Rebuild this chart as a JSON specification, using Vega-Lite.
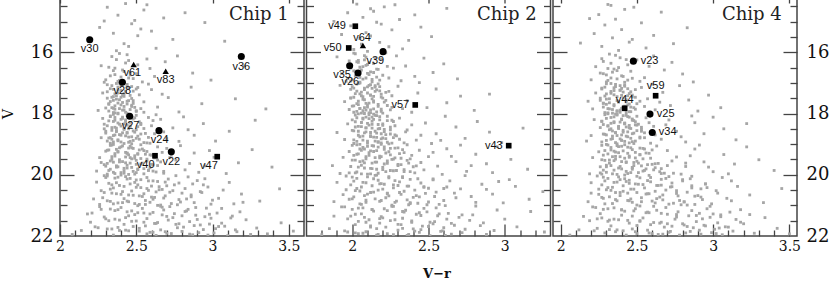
{
"$schema":"https://vega.github.io/schema/vega-lite/v6.json",
"background":"white",
"padding":{"left":0,"top":-11,"right":0,"bottom":0},
"spacing":-1.5,
"config":{
 "view":{"stroke":"#444","strokeWidth":1.5},
 "axis":{"domain":false,"grid":false,"minExtent":0,"zindex":1,"tickColor":"#444","tickWidth":1.3,"labelColor":"#111","labelFont":"DejaVu Serif","titleFont":"DejaVu Serif","titleColor":"#111","labelFlush":false,"labelOverlap":false}
},
"datasets":{
"chips":[{"p":1,"label":"Chip 1","x":3.5,"y":14.95},{"p":2,"label":"Chip 2","x":3.21,"y":14.95},{"p":4,"label":"Chip 4","x":3.45,"y":14.95}],
"sym":[
{"p":1,"n":"v30","t":"c","x":2.195,"y":15.59,"lx":2.195,"ly":15.91},
{"p":1,"n":"v61","t":"t","x":2.483,"y":16.4,"lx":2.474,"ly":16.665},
{"p":1,"n":"v83","t":"t","x":2.693,"y":16.62,"lx":2.693,"ly":16.89},
{"p":1,"n":"v36","t":"c","x":3.189,"y":16.14,"lx":3.189,"ly":16.485},
{"p":1,"n":"v28","t":"c","x":2.409,"y":16.98,"lx":2.409,"ly":17.27},
{"p":1,"n":"v27","t":"c","x":2.457,"y":18.09,"lx":2.463,"ly":18.4},
{"p":1,"n":"v24","t":"c","x":2.649,"y":18.56,"lx":2.654,"ly":18.85},
{"p":1,"n":"v22","t":"c","x":2.73,"y":19.25,"lx":2.73,"ly":19.57},
{"p":1,"n":"v40","t":"s","x":2.623,"y":19.38,"lx":2.562,"ly":19.68},
{"p":1,"n":"v47","t":"s","x":3.031,"y":19.41,"lx":2.977,"ly":19.71},
{"p":2,"n":"v49","t":"s","x":2.02,"y":15.15,"lx":1.9,"ly":15.15},
{"p":2,"n":"v64","t":"t","x":2.07,"y":15.78,"lx":2.064,"ly":15.52},
{"p":2,"n":"v50","t":"s","x":1.977,"y":15.86,"lx":1.872,"ly":15.86},
{"p":2,"n":"v39","t":"c","x":2.202,"y":15.98,"lx":2.151,"ly":16.3},
{"p":2,"n":"v35","t":"c","x":1.983,"y":16.44,"lx":1.933,"ly":16.74},
{"p":2,"n":"v26","t":"c","x":2.038,"y":16.68,"lx":1.987,"ly":16.98},
{"p":2,"n":"v57","t":"s","x":2.413,"y":17.72,"lx":2.315,"ly":17.72},
{"p":2,"n":"v43","t":"s","x":3.026,"y":19.05,"lx":2.928,"ly":19.05},
{"p":4,"n":"v23","t":"c","x":2.477,"y":16.29,"lx":2.583,"ly":16.29},
{"p":4,"n":"v59","t":"s","x":2.623,"y":17.42,"lx":2.623,"ly":17.1},
{"p":4,"n":"v44","t":"s","x":2.42,"y":17.83,"lx":2.42,"ly":17.55},
{"p":4,"n":"v25","t":"c","x":2.586,"y":18.02,"lx":2.689,"ly":18.02},
{"p":4,"n":"v34","t":"c","x":2.601,"y":18.62,"lx":2.702,"ly":18.62}
],
"c1":[
{"x":2.43,"y":14.41},{"x":2.55,"y":14.62},{"x":2.31,"y":14.53},{"x":2.68,"y":14.88},{"x":2.47,"y":15.07},{"x":2.38,"y":14.79},{"x":2.6,"y":15.31},{"x":2.26,"y":15.19},{"x":2.51,"y":15.46},{"x":2.42,"y":15.72},{"x":2.35,"y":15.38},{"x":2.74,"y":15.58},{"x":2.49,"y":14.96},{"x":2.63,"y":15.87},{"x":2.37,"y":15.95},{"x":2.95,"y":15.03},{"x":3.08,"y":15.64},{"x":2.57,"y":14.45},{"x":2.82,"y":14.71},{"x":2.45,"y":15.81},{"x":2.29,"y":14.98},{"x":2.53,"y":15.24},
{"x":2.39,"y":16.04},{"x":2.45,"y":16.27},{"x":2.34,"y":16.14},{"x":2.51,"y":16.41},{"x":2.41,"y":16.58},{"x":2.36,"y":16.73},{"x":2.48,"y":16.86},{"x":2.43,"y":16.35},{"x":2.32,"y":16.49},{"x":2.57,"y":16.22},{"x":2.38,"y":16.95},{"x":2.46,"y":16.66},{"x":2.62,"y":16.79},{"x":2.3,"y":16.9},{"x":2.69,"y":16.31},{"x":2.4,"y":16.81},{"x":2.54,"y":16.97},{"x":2.35,"y":16.6},{"x":2.77,"y":16.12},{"x":2.87,"y":16.68},{"x":2.44,"y":16.08},{"x":2.27,"y":16.44},{"x":2.5,"y":16.7},{"x":2.99,"y":16.91},{"x":2.37,"y":16.24},{"x":2.59,"y":16.53},{"x":3.21,"y":16.45},{"x":2.42,"y":16.99},
{"x":2.37,"y":17.02},{"x":2.44,"y":17.11},{"x":2.33,"y":17.19},{"x":2.48,"y":17.27},{"x":2.4,"y":17.08},{"x":2.36,"y":17.36},{"x":2.42,"y":17.44},{"x":2.51,"y":17.15},{"x":2.31,"y":17.5},{"x":2.45,"y":17.58},{"x":2.38,"y":17.66},{"x":2.34,"y":17.81},{"x":2.47,"y":17.73},{"x":2.41,"y":17.89},{"x":2.55,"y":17.62},{"x":2.35,"y":17.97},{"x":2.43,"y":17.3},{"x":2.39,"y":17.55},{"x":2.5,"y":17.93},{"x":2.32,"y":17.7},{"x":2.46,"y":17.41},{"x":2.36,"y":17.86},{"x":2.6,"y":17.22},{"x":2.64,"y":17.79},{"x":2.28,"y":17.33},{"x":2.71,"y":17.48},{"x":2.78,"y":17.95},{"x":2.86,"y":17.14},{"x":2.93,"y":17.68},{"x":3.15,"y":17.52},{"x":2.53,"y":17.84},{"x":2.44,"y":17.99},{"x":2.4,"y":17.24},{"x":2.48,"y":17.67},{"x":2.35,"y":17.45},{"x":2.58,"y":17.04},{"x":2.25,"y":17.9},{"x":2.67,"y":17.37},{"x":2.42,"y":17.77},{"x":3.35,"y":17.85},
{"x":2.35,"y":18.03},{"x":2.41,"y":18.16},{"x":2.47,"y":18.09},{"x":2.32,"y":18.24},{"x":2.38,"y":18.31},{"x":2.44,"y":18.38},{"x":2.52,"y":18.27},{"x":2.36,"y":18.45},{"x":2.42,"y":18.52},{"x":2.49,"y":18.61},{"x":2.3,"y":18.58},{"x":2.39,"y":18.69},{"x":2.45,"y":18.77},{"x":2.34,"y":18.84},{"x":2.55,"y":18.49},{"x":2.4,"y":18.93},{"x":2.48,"y":18.88},{"x":2.33,"y":18.97},{"x":2.58,"y":18.13},{"x":2.43,"y":18.21},{"x":2.37,"y":18.56},{"x":2.51,"y":18.74},{"x":2.46,"y":18.42},{"x":2.62,"y":18.66},{"x":2.29,"y":18.35},{"x":2.66,"y":18.19},{"x":2.7,"y":18.82},{"x":2.74,"y":18.47},{"x":2.81,"y":18.11},{"x":2.88,"y":18.71},{"x":2.94,"y":18.33},{"x":3.02,"y":18.9},{"x":3.11,"y":18.58},{"x":2.57,"y":18.96},{"x":2.36,"y":18.13},{"x":2.44,"y":18.64},{"x":2.53,"y":18.36},{"x":2.4,"y":18.41},{"x":2.27,"y":18.79},{"x":2.63,"y":18.04},{"x":2.78,"y":18.91},{"x":2.84,"y":18.53},{"x":3.28,"y":18.22},{"x":2.5,"y":18.06},{"x":2.47,"y":18.99},{"x":2.35,"y":18.72},{"x":2.68,"y":18.6},{"x":2.31,"y":18.9},
{"x":2.33,"y":19.04},{"x":2.39,"y":19.12},{"x":2.46,"y":19.07},{"x":2.52,"y":19.19},{"x":2.3,"y":19.23},{"x":2.36,"y":19.31},{"x":2.43,"y":19.27},{"x":2.49,"y":19.38},{"x":2.56,"y":19.33},{"x":2.62,"y":19.45},{"x":2.34,"y":19.5},{"x":2.41,"y":19.57},{"x":2.47,"y":19.48},{"x":2.54,"y":19.62},{"x":2.29,"y":19.67},{"x":2.38,"y":19.74},{"x":2.44,"y":19.69},{"x":2.51,"y":19.81},{"x":2.59,"y":19.77},{"x":2.66,"y":19.58},{"x":2.32,"y":19.86},{"x":2.4,"y":19.93},{"x":2.48,"y":19.89},{"x":2.55,"y":19.97},{"x":2.63,"y":19.91},{"x":2.7,"y":19.14},{"x":2.76,"y":19.52},{"x":2.82,"y":19.84},{"x":2.88,"y":19.29},{"x":2.95,"y":19.71},{"x":3.01,"y":19.43},{"x":3.09,"y":19.96},{"x":3.17,"y":19.61},{"x":2.26,"y":19.44},{"x":2.24,"y":19.88},{"x":2.37,"y":19.17},{"x":2.45,"y":19.35},{"x":2.53,"y":19.02},{"x":2.6,"y":19.66},{"x":2.68,"y":19.95},{"x":2.35,"y":19.59},{"x":2.42,"y":19.79},{"x":2.5,"y":19.53},{"x":2.57,"y":19.24},{"x":2.73,"y":19.36},{"x":2.79,"y":19.05},{"x":2.91,"y":19.92},{"x":3.26,"y":19.18},{"x":3.39,"y":19.75},{"x":2.31,"y":19.98},{"x":2.64,"y":19.09},{"x":2.85,"y":19.63},{"x":2.98,"y":19.21},{"x":2.45,"y":19.99},{"x":2.58,"y":19.85},
{"x":2.29,"y":20.03},{"x":2.36,"y":20.11},{"x":2.43,"y":20.06},{"x":2.5,"y":20.17},{"x":2.57,"y":20.09},{"x":2.64,"y":20.22},{"x":2.71,"y":20.14},{"x":2.32,"y":20.28},{"x":2.39,"y":20.35},{"x":2.46,"y":20.3},{"x":2.53,"y":20.42},{"x":2.6,"y":20.37},{"x":2.67,"y":20.48},{"x":2.75,"y":20.33},{"x":2.82,"y":20.45},{"x":2.27,"y":20.52},{"x":2.34,"y":20.6},{"x":2.41,"y":20.55},{"x":2.48,"y":20.67},{"x":2.55,"y":20.62},{"x":2.62,"y":20.74},{"x":2.69,"y":20.69},{"x":2.78,"y":20.81},{"x":2.86,"y":20.72},{"x":2.93,"y":20.58},{"x":2.31,"y":20.85},{"x":2.38,"y":20.92},{"x":2.45,"y":20.88},{"x":2.52,"y":20.97},{"x":2.59,"y":20.9},{"x":2.66,"y":20.99},{"x":2.73,"y":20.94},{"x":2.9,"y":20.19},{"x":2.97,"y":20.4},{"x":3.04,"y":20.77},{"x":3.11,"y":20.25},{"x":3.19,"y":20.63},{"x":3.31,"y":20.86},{"x":3.44,"y":20.46},{"x":2.24,"y":20.24},{"x":2.22,"y":20.79},{"x":2.84,"y":20.07},{"x":2.99,"y":20.96},{"x":3.07,"y":20.5},{"x":2.8,"y":20.6},{"x":2.35,"y":20.43},{"x":2.42,"y":20.78},{"x":2.49,"y":20.25},{"x":2.56,"y":20.84},{"x":2.63,"y":20.56},{"x":2.7,"y":20.36},{"x":2.77,"y":20.98},{"x":2.88,"y":20.91},{"x":2.95,"y":20.13},{"x":3.14,"y":20.95},{"x":2.4,"y":20.01},{"x":2.58,"y":20.51},{"x":2.26,"y":20.97},
{"x":2.26,"y":21.04},{"x":2.33,"y":21.12},{"x":2.4,"y":21.07},{"x":2.47,"y":21.18},{"x":2.54,"y":21.1},{"x":2.61,"y":21.23},{"x":2.68,"y":21.15},{"x":2.75,"y":21.27},{"x":2.82,"y":21.2},{"x":2.89,"y":21.32},{"x":2.96,"y":21.09},{"x":3.03,"y":21.25},{"x":2.29,"y":21.38},{"x":2.36,"y":21.45},{"x":2.43,"y":21.4},{"x":2.5,"y":21.51},{"x":2.57,"y":21.43},{"x":2.64,"y":21.56},{"x":2.71,"y":21.48},{"x":2.78,"y":21.6},{"x":2.85,"y":21.53},{"x":2.92,"y":21.64},{"x":2.99,"y":21.42},{"x":3.06,"y":21.58},{"x":3.13,"y":21.35},{"x":2.23,"y":21.7},{"x":2.31,"y":21.77},{"x":2.38,"y":21.72},{"x":2.45,"y":21.83},{"x":2.52,"y":21.75},{"x":2.59,"y":21.88},{"x":2.66,"y":21.8},{"x":2.73,"y":21.92},{"x":2.8,"y":21.85},{"x":2.87,"y":21.96},{"x":2.94,"y":21.79},{"x":3.01,"y":21.9},{"x":3.08,"y":21.68},{"x":3.16,"y":21.86},{"x":3.22,"y":21.47},{"x":3.29,"y":21.74},{"x":3.36,"y":21.93},{"x":3.45,"y":21.57},{"x":3.53,"y":21.84},{"x":2.18,"y":21.28},{"x":2.14,"y":21.82},{"x":2.08,"y":21.95},{"x":2.35,"y":21.97},{"x":2.42,"y":21.62},{"x":2.49,"y":21.3},{"x":2.56,"y":21.67},{"x":2.63,"y":21.98},{"x":2.7,"y":21.36},{"x":2.77,"y":21.73},{"x":2.84,"y":21.13},{"x":2.91,"y":21.89},{"x":2.98,"y":21.61},{"x":3.1,"y":21.99},{"x":3.18,"y":21.21},{"x":3.25,"y":21.95},{"x":2.2,"y":21.55},{"x":2.66,"y":21.03},
{"x":2.39,"y":17.01},{"x":2.34,"y":17.09},{"x":2.45,"y":17.17},{"x":2.38,"y":17.23},{"x":2.31,"y":17.29},{"x":2.42,"y":17.35},{"x":2.47,"y":17.51},{"x":2.37,"y":17.42},{"x":2.33,"y":17.61},{"x":2.41,"y":17.64},{"x":2.44,"y":17.69},{"x":2.36,"y":17.75},{"x":2.49,"y":17.8},{"x":2.39,"y":17.84},{"x":2.32,"y":17.92},{"x":2.43,"y":17.96},{"x":2.4,"y":17.47},{"x":2.35,"y":17.57},{"x":2.46,"y":17.87},{"x":2.38,"y":17.14},{"x":2.52,"y":17.39},{"x":2.3,"y":17.82},{"x":2.44,"y":17.05},{"x":2.48,"y":17.58},{"x":2.36,"y":17.98},
{"x":2.38,"y":18.01},{"x":2.44,"y":18.07},{"x":2.33,"y":18.1},{"x":2.49,"y":18.14},{"x":2.4,"y":18.19},{"x":2.35,"y":18.26},{"x":2.46,"y":18.29},{"x":2.42,"y":18.34},{"x":2.31,"y":18.4},{"x":2.51,"y":18.43},{"x":2.37,"y":18.48},{"x":2.45,"y":18.5},{"x":2.34,"y":18.55},{"x":2.48,"y":18.57},{"x":2.41,"y":18.63},{"x":2.53,"y":18.67},{"x":2.36,"y":18.7},{"x":2.43,"y":18.73},{"x":2.32,"y":18.8},{"x":2.5,"y":18.81},{"x":2.38,"y":18.86},{"x":2.46,"y":18.91},{"x":2.55,"y":18.95},{"x":2.42,"y":18.98},{"x":2.29,"y":18.5},{"x":2.6,"y":18.4},{"x":2.58,"y":18.78},{"x":2.35,"y":18.93},
{"x":2.35,"y":19.01},{"x":2.41,"y":19.06},{"x":2.48,"y":19.14},{"x":2.32,"y":19.19},{"x":2.55,"y":19.21},{"x":2.38,"y":19.26},{"x":2.44,"y":19.3},{"x":2.51,"y":19.33},{"x":2.6,"y":19.36},{"x":2.34,"y":19.41},{"x":2.46,"y":19.44},{"x":2.39,"y":19.51},{"x":2.57,"y":19.55},{"x":2.43,"y":19.61},{"x":2.31,"y":19.63},{"x":2.5,"y":19.66},{"x":2.64,"y":19.7},{"x":2.37,"y":19.71},{"x":2.47,"y":19.76},{"x":2.55,"y":19.8},{"x":2.33,"y":19.82},{"x":2.42,"y":19.87},{"x":2.61,"y":19.88},{"x":2.5,"y":19.93},{"x":2.36,"y":19.96},{"x":2.45,"y":19.13},{"x":2.53,"y":19.47},{"x":2.67,"y":19.27},
{"x":2.3,"y":20.09},{"x":2.44,"y":20.14},{"x":2.58,"y":20.2},{"x":2.37,"y":20.26},{"x":2.51,"y":20.33},{"x":2.65,"y":20.39},{"x":2.33,"y":20.47},{"x":2.47,"y":20.53},{"x":2.72,"y":20.57},{"x":2.4,"y":20.64},{"x":2.54,"y":20.71},{"x":2.86,"y":20.66},{"x":2.28,"y":20.75},{"x":2.61,"y":20.8},{"x":2.44,"y":20.86},{"x":2.79,"y":20.89},{"x":2.35,"y":20.95},{"x":2.94,"y":20.33},{"x":2.51,"y":21.01},{"x":2.67,"y":21.06},{"x":2.38,"y":21.14},{"x":2.83,"y":21.18},{"x":2.55,"y":21.25},{"x":2.98,"y":21.29},{"x":2.45,"y":21.34},{"x":2.74,"y":21.4},{"x":2.32,"y":21.5},{"x":2.9,"y":21.46},{"x":2.62,"y":21.59},{"x":2.48,"y":21.69},{"x":2.81,"y":21.71},{"x":3.02,"y":21.76},{"x":2.39,"y":21.82},{"x":2.69,"y":21.86},{"x":2.57,"y":21.93},
{"x":2.36,"y":16.52},{"x":2.42,"y":16.63},{"x":2.33,"y":16.77},{"x":2.45,"y":16.84},{"x":2.39,"y":16.92},{"x":2.31,"y":17.06},{"x":2.47,"y":17.12},{"x":2.35,"y":17.21},{"x":2.43,"y":17.27},{"x":2.38,"y":17.33},{"x":2.5,"y":17.2},{"x":2.29,"y":16.98},{"x":2.41,"y":17.41},{"x":2.34,"y":17.47},{"x":2.46,"y":16.74},
{"x":2.37,"y":17.53},{"x":2.44,"y":17.6},{"x":2.32,"y":17.68},{"x":2.4,"y":17.72},{"x":2.47,"y":17.77},{"x":2.35,"y":17.83},{"x":2.42,"y":17.88},{"x":2.5,"y":17.91},{"x":2.38,"y":17.99},{"x":2.45,"y":18.04},{"x":2.33,"y":18.08},{"x":2.41,"y":18.12},{"x":2.48,"y":18.18},{"x":2.36,"y":18.22},{"x":2.43,"y":18.27},{"x":2.53,"y":18.32},{"x":2.39,"y":18.35},{"x":2.46,"y":18.41},{"x":2.34,"y":18.46},{"x":2.42,"y":18.49},{"x":2.5,"y":18.53},{"x":2.37,"y":18.59},{"x":2.44,"y":18.62},{"x":2.56,"y":18.65},{"x":2.4,"y":18.71},{"x":2.47,"y":18.76},{"x":2.33,"y":18.79},{"x":2.52,"y":18.84},{"x":2.38,"y":18.89},{"x":2.45,"y":18.94},{"x":2.59,"y":18.97},{"x":2.3,"y":18.64},{"x":2.61,"y":18.23},{"x":2.55,"y":17.96},{"x":2.28,"y":18.16},
{"x":2.34,"y":19.03},{"x":2.4,"y":19.09},{"x":2.47,"y":19.12},{"x":2.54,"y":19.16},{"x":2.31,"y":19.2},{"x":2.38,"y":19.24},{"x":2.44,"y":19.29},{"x":2.51,"y":19.31},{"x":2.59,"y":19.35},{"x":2.36,"y":19.39},{"x":2.43,"y":19.42},{"x":2.49,"y":19.46},{"x":2.57,"y":19.49},{"x":2.64,"y":19.52},{"x":2.33,"y":19.55},{"x":2.39,"y":19.58},{"x":2.46,"y":19.62},{"x":2.53,"y":19.65},{"x":2.61,"y":19.68},{"x":2.3,"y":19.72},{"x":2.37,"y":19.75},{"x":2.44,"y":19.78},{"x":2.51,"y":19.83},{"x":2.58,"y":19.86},{"x":2.68,"y":19.89},{"x":2.35,"y":19.92},{"x":2.42,"y":19.95},{"x":2.49,"y":19.98},{"x":2.72,"y":19.44},{"x":2.27,"y":19.6},
{"x":2.31,"y":20.04},{"x":2.38,"y":20.08},{"x":2.46,"y":20.12},{"x":2.53,"y":20.16},{"x":2.61,"y":20.2},{"x":2.69,"y":20.24},{"x":2.78,"y":20.27},{"x":2.87,"y":20.3},{"x":2.34,"y":20.33},{"x":2.42,"y":20.38},{"x":2.5,"y":20.41},{"x":2.57,"y":20.45},{"x":2.65,"y":20.49},{"x":2.74,"y":20.52},{"x":2.92,"y":20.55},{"x":2.29,"y":20.58},{"x":2.37,"y":20.62},{"x":2.45,"y":20.66},{"x":2.52,"y":20.69},{"x":2.6,"y":20.73},{"x":2.68,"y":20.76},{"x":2.83,"y":20.79},{"x":3.0,"y":20.83},{"x":2.33,"y":20.87},{"x":2.41,"y":20.91},{"x":2.49,"y":20.94},{"x":2.56,"y":20.97},{"x":2.64,"y":21.0},{"x":2.72,"y":21.04},{"x":2.89,"y":21.07},{"x":3.06,"y":21.1},{"x":2.27,"y":21.13},{"x":2.36,"y":21.17},{"x":2.44,"y":21.21},{"x":2.51,"y":21.24},{"x":2.59,"y":21.28},{"x":2.67,"y":21.31},{"x":2.8,"y":21.34},{"x":2.95,"y":21.37},{"x":3.12,"y":21.41},{"x":2.3,"y":21.44},{"x":2.39,"y":21.48},{"x":2.47,"y":21.52},{"x":2.55,"y":21.55},{"x":2.63,"y":21.59},{"x":2.76,"y":21.62},{"x":2.88,"y":21.66},{"x":3.04,"y":21.69},{"x":2.25,"y":21.73},{"x":2.34,"y":21.77},{"x":2.43,"y":21.81},{"x":2.52,"y":21.84},{"x":2.61,"y":21.88},{"x":2.7,"y":21.91},{"x":2.85,"y":21.94},{"x":2.97,"y":21.97},{"x":3.15,"y":21.8},{"x":2.21,"y":21.25},{"x":3.2,"y":20.9},{"x":2.76,"y":20.03}
],
"c2":[
{"x":2.03,"y":14.43},{"x":2.12,"y":14.58},{"x":1.97,"y":14.71},{"x":2.21,"y":14.52},{"x":2.07,"y":14.86},{"x":2.16,"y":15.02},{"x":1.99,"y":15.14},{"x":2.26,"y":15.27},{"x":2.09,"y":15.36},{"x":2.31,"y":14.93},{"x":2.05,"y":15.55},{"x":2.18,"y":15.68},{"x":2.12,"y":15.47},{"x":2.24,"y":15.82},{"x":2.01,"y":15.91},{"x":2.37,"y":15.61},{"x":2.45,"y":15.18},{"x":2.14,"y":14.66},{"x":1.93,"y":15.42},{"x":2.28,"y":14.45},{"x":2.41,"y":14.78},{"x":2.52,"y":15.49},{"x":2.1,"y":15.97},{"x":2.19,"y":15.08},{"x":2.62,"y":14.57},{"x":2.33,"y":15.89},{"x":1.88,"y":14.99},{"x":2.06,"y":15.74},
{"x":2.02,"y":16.05},{"x":2.09,"y":16.16},{"x":1.98,"y":16.28},{"x":2.14,"y":16.37},{"x":2.05,"y":16.49},{"x":2.19,"y":16.22},{"x":2.01,"y":16.61},{"x":2.11,"y":16.73},{"x":2.07,"y":16.88},{"x":1.96,"y":16.95},{"x":2.17,"y":16.56},{"x":2.24,"y":16.84},{"x":2.04,"y":16.33},{"x":2.13,"y":16.97},{"x":2.29,"y":16.12},{"x":2.35,"y":16.45},{"x":2.41,"y":16.79},{"x":2.47,"y":16.19},{"x":2.53,"y":16.66},{"x":2.09,"y":16.43},{"x":1.93,"y":16.7},{"x":2.22,"y":16.02},{"x":2.0,"y":16.9},{"x":2.16,"y":16.81},{"x":2.32,"y":16.93},{"x":2.6,"y":16.38},{"x":2.69,"y":16.87},{"x":2.08,"y":16.25},{"x":2.12,"y":16.64},{"x":2.27,"y":16.52},{"x":1.9,"y":16.15},{"x":2.44,"y":16.99},
{"x":2.03,"y":17.04},{"x":2.1,"y":17.13},{"x":1.99,"y":17.21},{"x":2.15,"y":17.09},{"x":2.06,"y":17.3},{"x":2.12,"y":17.39},{"x":2.01,"y":17.47},{"x":2.18,"y":17.26},{"x":2.08,"y":17.55},{"x":2.14,"y":17.63},{"x":2.04,"y":17.71},{"x":2.2,"y":17.5},{"x":2.1,"y":17.79},{"x":1.98,"y":17.87},{"x":2.16,"y":17.95},{"x":2.07,"y":17.91},{"x":2.23,"y":17.74},{"x":2.02,"y":17.35},{"x":2.13,"y":17.18},{"x":2.09,"y":17.67},{"x":2.26,"y":17.42},{"x":2.05,"y":17.83},{"x":2.19,"y":17.86},{"x":2.11,"y":17.98},{"x":2.3,"y":17.11},{"x":2.36,"y":17.58},{"x":2.43,"y":17.33},{"x":2.49,"y":17.81},{"x":2.55,"y":17.2},{"x":2.62,"y":17.65},{"x":2.71,"y":17.43},{"x":2.8,"y":17.9},{"x":1.95,"y":17.61},{"x":1.92,"y":17.08},{"x":2.17,"y":17.03},{"x":2.06,"y":17.99},{"x":2.24,"y":17.28},{"x":2.33,"y":17.84},{"x":2.14,"y":17.44},{"x":2.0,"y":17.76},{"x":2.9,"y":17.37},{"x":2.39,"y":17.96},
{"x":2.02,"y":18.05},{"x":2.09,"y":18.12},{"x":2.16,"y":18.07},{"x":2.0,"y":18.21},{"x":2.06,"y":18.29},{"x":2.13,"y":18.25},{"x":2.2,"y":18.34},{"x":2.04,"y":18.42},{"x":2.11,"y":18.38},{"x":2.18,"y":18.49},{"x":2.25,"y":18.45},{"x":2.01,"y":18.57},{"x":2.08,"y":18.63},{"x":2.15,"y":18.58},{"x":2.22,"y":18.69},{"x":2.05,"y":18.76},{"x":2.12,"y":18.72},{"x":2.19,"y":18.83},{"x":2.27,"y":18.79},{"x":2.03,"y":18.91},{"x":2.1,"y":18.97},{"x":2.17,"y":18.93},{"x":2.24,"y":18.99},{"x":2.31,"y":18.15},{"x":2.36,"y":18.54},{"x":2.42,"y":18.87},{"x":2.48,"y":18.31},{"x":2.55,"y":18.66},{"x":2.61,"y":18.09},{"x":2.68,"y":18.44},{"x":2.74,"y":18.81},{"x":2.82,"y":18.26},{"x":2.9,"y":18.61},{"x":2.98,"y":18.95},{"x":1.97,"y":18.34},{"x":1.95,"y":18.85},{"x":2.07,"y":18.18},{"x":2.14,"y":18.02},{"x":2.21,"y":18.59},{"x":2.29,"y":18.73},{"x":2.34,"y":18.96},{"x":2.09,"y":18.47},{"x":2.16,"y":18.78},{"x":2.26,"y":18.22},{"x":2.39,"y":18.37},{"x":2.45,"y":18.71},{"x":2.52,"y":18.98},{"x":1.9,"y":18.62},{"x":3.12,"y":18.48},{"x":2.58,"y":18.88},
{"x":2.0,"y":19.04},{"x":2.07,"y":19.11},{"x":2.14,"y":19.06},{"x":2.21,"y":19.17},{"x":2.28,"y":19.13},{"x":1.98,"y":19.24},{"x":2.04,"y":19.32},{"x":2.11,"y":19.28},{"x":2.18,"y":19.39},{"x":2.25,"y":19.35},{"x":2.32,"y":19.46},{"x":2.02,"y":19.52},{"x":2.09,"y":19.48},{"x":2.16,"y":19.59},{"x":2.23,"y":19.55},{"x":2.3,"y":19.66},{"x":2.37,"y":19.62},{"x":1.99,"y":19.73},{"x":2.06,"y":19.69},{"x":2.13,"y":19.8},{"x":2.2,"y":19.76},{"x":2.27,"y":19.87},{"x":2.34,"y":19.83},{"x":2.41,"y":19.94},{"x":2.03,"y":19.91},{"x":2.1,"y":19.98},{"x":2.17,"y":19.95},{"x":2.44,"y":19.2},{"x":2.5,"y":19.41},{"x":2.56,"y":19.72},{"x":2.62,"y":19.15},{"x":2.68,"y":19.57},{"x":2.75,"y":19.89},{"x":2.81,"y":19.33},{"x":2.88,"y":19.64},{"x":2.95,"y":19.08},{"x":3.04,"y":19.5},{"x":3.15,"y":19.82},{"x":1.94,"y":19.43},{"x":1.92,"y":19.96},{"x":2.12,"y":19.22},{"x":2.19,"y":19.01},{"x":2.26,"y":19.5},{"x":2.33,"y":19.18},{"x":2.39,"y":19.37},{"x":2.47,"y":19.84},{"x":2.53,"y":19.27},{"x":2.59,"y":19.99},{"x":2.65,"y":19.4},{"x":2.71,"y":19.03},{"x":2.78,"y":19.7},{"x":2.08,"y":19.61},{"x":2.15,"y":19.44},{"x":2.22,"y":19.9},{"x":2.36,"y":19.02},{"x":2.05,"y":19.16},{"x":1.87,"y":19.7},{"x":2.92,"y":19.93},
{"x":1.96,"y":20.04},{"x":2.03,"y":20.12},{"x":2.1,"y":20.07},{"x":2.17,"y":20.18},{"x":2.24,"y":20.1},{"x":2.31,"y":20.23},{"x":2.38,"y":20.15},{"x":2.45,"y":20.27},{"x":1.99,"y":20.33},{"x":2.06,"y":20.4},{"x":2.13,"y":20.36},{"x":2.2,"y":20.47},{"x":2.27,"y":20.43},{"x":2.34,"y":20.54},{"x":2.41,"y":20.5},{"x":2.48,"y":20.61},{"x":2.55,"y":20.57},{"x":1.94,"y":20.65},{"x":2.01,"y":20.72},{"x":2.08,"y":20.68},{"x":2.15,"y":20.79},{"x":2.22,"y":20.75},{"x":2.29,"y":20.86},{"x":2.36,"y":20.82},{"x":2.43,"y":20.93},{"x":2.5,"y":20.89},{"x":2.57,"y":20.97},{"x":2.64,"y":20.2},{"x":2.71,"y":20.46},{"x":2.78,"y":20.71},{"x":2.85,"y":20.31},{"x":2.92,"y":20.63},{"x":2.99,"y":20.92},{"x":3.07,"y":20.38},{"x":3.16,"y":20.8},{"x":3.25,"y":20.55},{"x":1.9,"y":20.25},{"x":1.88,"y":20.88},{"x":2.05,"y":20.95},{"x":2.12,"y":20.58},{"x":2.19,"y":20.29},{"x":2.26,"y":20.99},{"x":2.33,"y":20.06},{"x":2.4,"y":20.74},{"x":2.47,"y":20.39},{"x":2.53,"y":20.14},{"x":2.6,"y":20.84},{"x":2.67,"y":20.6},{"x":2.74,"y":20.03},{"x":2.81,"y":20.9},{"x":2.88,"y":20.48},{"x":2.96,"y":20.22},{"x":2.02,"y":20.52},{"x":2.09,"y":20.9},{"x":2.16,"y":20.01},{"x":2.23,"y":20.62},{"x":2.3,"y":20.35},{"x":2.37,"y":20.98},{"x":2.62,"y":20.4},{"x":3.03,"y":20.16},
{"x":1.93,"y":21.05},{"x":2.0,"y":21.13},{"x":2.07,"y":21.08},{"x":2.14,"y":21.19},{"x":2.21,"y":21.11},{"x":2.28,"y":21.24},{"x":2.35,"y":21.16},{"x":2.42,"y":21.29},{"x":2.49,"y":21.21},{"x":2.56,"y":21.34},{"x":2.63,"y":21.26},{"x":2.7,"y":21.39},{"x":1.97,"y":21.44},{"x":2.04,"y":21.52},{"x":2.11,"y":21.47},{"x":2.18,"y":21.58},{"x":2.25,"y":21.5},{"x":2.32,"y":21.63},{"x":2.39,"y":21.55},{"x":2.46,"y":21.68},{"x":2.53,"y":21.6},{"x":2.6,"y":21.73},{"x":2.67,"y":21.65},{"x":2.74,"y":21.78},{"x":1.95,"y":21.83},{"x":2.02,"y":21.9},{"x":2.09,"y":21.86},{"x":2.16,"y":21.97},{"x":2.23,"y":21.92},{"x":2.3,"y":21.81},{"x":2.37,"y":21.95},{"x":2.44,"y":21.88},{"x":2.51,"y":21.99},{"x":2.58,"y":21.85},{"x":2.65,"y":21.94},{"x":2.72,"y":21.89},{"x":2.79,"y":21.31},{"x":2.86,"y":21.57},{"x":2.93,"y":21.82},{"x":3.0,"y":21.45},{"x":3.08,"y":21.7},{"x":3.17,"y":21.2},{"x":3.26,"y":21.87},{"x":1.88,"y":21.35},{"x":1.85,"y":21.76},{"x":1.8,"y":21.96},{"x":2.81,"y":21.02},{"x":2.88,"y":21.95},{"x":2.95,"y":21.15},{"x":2.84,"y":21.66},{"x":2.77,"y":21.49},{"x":2.12,"y":21.71},{"x":2.19,"y":21.37},{"x":2.26,"y":21.03},{"x":2.33,"y":21.42},{"x":2.4,"y":21.77},{"x":2.47,"y":21.1},{"x":2.54,"y":21.53},{"x":2.61,"y":21.98},{"x":2.06,"y":21.28},
{"x":2.03,"y":16.31},{"x":2.1,"y":16.4},{"x":1.99,"y":16.52},{"x":2.06,"y":16.58},{"x":2.14,"y":16.66},{"x":2.02,"y":16.77},{"x":2.09,"y":16.84},{"x":2.18,"y":16.91},{"x":2.05,"y":16.98},{"x":1.97,"y":16.86},
{"x":2.05,"y":17.01},{"x":2.12,"y":17.06},{"x":2.0,"y":17.12},{"x":2.08,"y":17.17},{"x":2.16,"y":17.23},{"x":2.03,"y":17.27},{"x":2.1,"y":17.33},{"x":2.19,"y":17.37},{"x":2.06,"y":17.42},{"x":1.99,"y":17.49},{"x":2.13,"y":17.52},{"x":2.22,"y":17.57},{"x":2.04,"y":17.6},{"x":2.11,"y":17.66},{"x":2.17,"y":17.7},{"x":2.01,"y":17.75},{"x":2.08,"y":17.81},{"x":2.14,"y":17.85},{"x":2.25,"y":17.88},{"x":2.03,"y":17.93},{"x":2.12,"y":17.97},{"x":2.2,"y":17.99},{"x":2.07,"y":17.45},{"x":2.15,"y":17.14},{"x":2.09,"y":17.89},
{"x":2.04,"y":18.01},{"x":2.11,"y":18.04},{"x":2.18,"y":18.1},{"x":2.07,"y":18.15},{"x":2.14,"y":18.19},{"x":2.23,"y":18.23},{"x":2.02,"y":18.27},{"x":2.1,"y":18.32},{"x":2.17,"y":18.36},{"x":2.28,"y":18.4},{"x":2.06,"y":18.43},{"x":2.13,"y":18.48},{"x":2.21,"y":18.52},{"x":2.0,"y":18.55},{"x":2.09,"y":18.6},{"x":2.16,"y":18.64},{"x":2.25,"y":18.67},{"x":2.04,"y":18.71},{"x":2.12,"y":18.75},{"x":2.2,"y":18.8},{"x":2.31,"y":18.84},{"x":2.07,"y":18.87},{"x":2.15,"y":18.9},{"x":2.23,"y":18.94},{"x":2.01,"y":18.98},{"x":2.35,"y":18.6},{"x":2.13,"y":18.12},{"x":2.19,"y":18.96},
{"x":2.03,"y":19.02},{"x":2.1,"y":19.07},{"x":2.17,"y":19.1},{"x":2.25,"y":19.14},{"x":2.06,"y":19.2},{"x":2.14,"y":19.24},{"x":2.22,"y":19.29},{"x":2.31,"y":19.31},{"x":2.01,"y":19.37},{"x":2.09,"y":19.41},{"x":2.18,"y":19.45},{"x":2.27,"y":19.49},{"x":2.36,"y":19.53},{"x":2.05,"y":19.57},{"x":2.13,"y":19.62},{"x":2.21,"y":19.65},{"x":2.3,"y":19.7},{"x":2.4,"y":19.74},{"x":2.08,"y":19.78},{"x":2.16,"y":19.82},{"x":2.25,"y":19.86},{"x":2.34,"y":19.9},{"x":2.02,"y":19.94},{"x":2.12,"y":19.97},{"x":2.45,"y":19.6},
{"x":2.0,"y":20.08},{"x":2.14,"y":20.13},{"x":2.28,"y":20.19},{"x":2.07,"y":20.25},{"x":2.21,"y":20.31},{"x":2.36,"y":20.37},{"x":2.03,"y":20.45},{"x":2.17,"y":20.5},{"x":2.5,"y":20.44},{"x":2.31,"y":20.58},{"x":2.1,"y":20.63},{"x":2.24,"y":20.69},{"x":2.44,"y":20.72},{"x":1.98,"y":20.8},{"x":2.19,"y":20.84},{"x":2.38,"y":20.91},{"x":2.06,"y":20.97},{"x":2.27,"y":21.03},{"x":2.55,"y":21.08},{"x":2.13,"y":21.14},{"x":2.34,"y":21.22},{"x":2.02,"y":21.29},{"x":2.45,"y":21.33},{"x":2.2,"y":21.41},{"x":2.62,"y":21.45},{"x":2.09,"y":21.55},{"x":2.3,"y":21.62},{"x":2.5,"y":21.69},{"x":2.16,"y":21.76},{"x":2.41,"y":21.84},{"x":2.04,"y":21.92},{"x":2.27,"y":21.96},
{"x":2.01,"y":16.03},{"x":2.08,"y":16.11},{"x":2.15,"y":16.2},{"x":2.04,"y":16.27},{"x":2.11,"y":16.34},{"x":1.98,"y":16.41},{"x":2.07,"y":16.47},{"x":2.16,"y":16.55},{"x":2.02,"y":16.62},{"x":2.1,"y":16.69},{"x":2.2,"y":16.75},{"x":2.05,"y":16.82},{"x":2.13,"y":16.89},{"x":1.99,"y":16.94},{"x":2.23,"y":16.46},
{"x":2.04,"y":17.02},{"x":2.11,"y":17.08},{"x":2.18,"y":17.12},{"x":2.01,"y":17.17},{"x":2.08,"y":17.22},{"x":2.15,"y":17.28},{"x":2.22,"y":17.31},{"x":2.05,"y":17.36},{"x":2.12,"y":17.41},{"x":2.19,"y":17.46},{"x":1.99,"y":17.5},{"x":2.07,"y":17.54},{"x":2.14,"y":17.59},{"x":2.21,"y":17.63},{"x":2.03,"y":17.68},{"x":2.1,"y":17.72},{"x":2.17,"y":17.77},{"x":2.26,"y":17.8},{"x":2.05,"y":17.84},{"x":2.12,"y":17.88},{"x":2.19,"y":17.93},{"x":2.01,"y":17.96},{"x":2.08,"y":18.0},{"x":2.15,"y":18.06},{"x":2.23,"y":18.09},{"x":2.03,"y":18.14},{"x":2.11,"y":18.17},{"x":2.18,"y":18.21},{"x":2.27,"y":18.26},{"x":2.06,"y":18.3},{"x":2.13,"y":18.35},{"x":2.2,"y":18.39},{"x":2.02,"y":18.44},{"x":2.09,"y":18.47},{"x":2.17,"y":18.5},
{"x":2.25,"y":18.53},{"x":2.04,"y":18.58},{"x":2.12,"y":18.62},{"x":2.19,"y":18.66},{"x":2.28,"y":18.7},{"x":2.07,"y":18.74},{"x":2.14,"y":18.77},{"x":2.22,"y":18.82},{"x":2.01,"y":18.86},{"x":2.1,"y":18.9},{"x":2.17,"y":18.93},{"x":2.26,"y":18.97},{"x":2.05,"y":19.01},{"x":2.13,"y":19.05},{"x":2.21,"y":19.09},{"x":2.3,"y":19.12},{"x":2.08,"y":19.16},{"x":2.16,"y":19.21},{"x":2.24,"y":19.25},{"x":2.34,"y":19.28},{"x":2.03,"y":19.33},{"x":2.11,"y":19.37},{"x":2.19,"y":19.41},{"x":2.28,"y":19.45},{"x":2.38,"y":19.48},
{"x":2.0,"y":19.52},{"x":2.07,"y":19.55},{"x":2.15,"y":19.59},{"x":2.23,"y":19.63},{"x":2.32,"y":19.67},{"x":2.42,"y":19.71},{"x":2.04,"y":19.75},{"x":2.12,"y":19.79},{"x":2.2,"y":19.83},{"x":2.29,"y":19.86},{"x":2.38,"y":19.9},{"x":1.98,"y":19.94},{"x":2.06,"y":19.97},{"x":2.15,"y":20.02},{"x":2.24,"y":20.06},{"x":2.33,"y":20.09},{"x":2.43,"y":20.13},{"x":2.53,"y":20.17},{"x":2.01,"y":20.21},{"x":2.09,"y":20.26},{"x":2.18,"y":20.3},{"x":2.27,"y":20.33},{"x":2.37,"y":20.37},{"x":2.47,"y":20.41},{"x":2.6,"y":20.45},{"x":1.96,"y":20.49},{"x":2.05,"y":20.53},{"x":2.14,"y":20.57},{"x":2.23,"y":20.6},{"x":2.32,"y":20.64},{"x":2.42,"y":20.68},{"x":2.54,"y":20.71},{"x":2.68,"y":20.75},{"x":2.0,"y":20.79},{"x":2.09,"y":20.83},{"x":2.18,"y":20.87},{"x":2.28,"y":20.9},{"x":2.38,"y":20.94},{"x":2.49,"y":20.98},{"x":2.61,"y":21.01},{"x":1.95,"y":21.05},{"x":2.04,"y":21.09},{"x":2.13,"y":21.13},{"x":2.23,"y":21.17},{"x":2.33,"y":21.2},{"x":2.44,"y":21.24},{"x":2.57,"y":21.28},{"x":2.72,"y":21.31},{"x":1.99,"y":21.35},{"x":2.08,"y":21.39},{"x":2.18,"y":21.43},{"x":2.28,"y":21.47},{"x":2.39,"y":21.51},{"x":2.51,"y":21.55},{"x":2.65,"y":21.59},{"x":2.02,"y":21.63},{"x":2.12,"y":21.67},{"x":2.22,"y":21.71},{"x":2.33,"y":21.75},{"x":2.45,"y":21.79},{"x":2.59,"y":21.83},{"x":1.97,"y":21.87},{"x":2.07,"y":21.91},{"x":2.17,"y":21.95},{"x":2.36,"y":21.98}
],
"c4":[
{"x":2.31,"y":14.44},{"x":2.42,"y":14.6},{"x":2.25,"y":14.77},{"x":2.36,"y":14.92},{"x":2.48,"y":14.53},{"x":2.29,"y":15.11},{"x":2.4,"y":15.26},{"x":2.53,"y":15.04},{"x":2.22,"y":15.39},{"x":2.34,"y":15.53},{"x":2.45,"y":15.67},{"x":2.61,"y":15.45},{"x":2.27,"y":15.81},{"x":2.38,"y":15.94},{"x":2.56,"y":15.86},{"x":2.19,"y":14.9},{"x":2.66,"y":14.69},{"x":2.74,"y":15.72},{"x":2.33,"y":14.47},{"x":2.47,"y":15.58},{"x":2.83,"y":15.2},{"x":2.13,"y":15.7},
{"x":2.32,"y":16.06},{"x":2.39,"y":16.18},{"x":2.28,"y":16.3},{"x":2.44,"y":16.41},{"x":2.35,"y":16.55},{"x":2.26,"y":16.68},{"x":2.41,"y":16.79},{"x":2.31,"y":16.92},{"x":2.5,"y":16.25},{"x":2.37,"y":16.87},{"x":2.46,"y":16.62},{"x":2.23,"y":16.47},{"x":2.55,"y":16.83},{"x":2.33,"y":16.36},{"x":2.42,"y":16.98},{"x":2.61,"y":16.12},{"x":2.68,"y":16.58},{"x":2.3,"y":16.74},{"x":2.38,"y":16.5},{"x":2.52,"y":16.95},{"x":2.2,"y":16.9},{"x":2.73,"y":16.33},{"x":2.8,"y":16.71},{"x":2.36,"y":16.1},{"x":2.47,"y":16.85},{"x":2.27,"y":16.21},{"x":2.58,"y":16.46},{"x":2.87,"y":16.97},{"x":2.34,"y":16.65},{"x":2.43,"y":16.24},
{"x":2.3,"y":17.03},{"x":2.36,"y":17.12},{"x":2.42,"y":17.07},{"x":2.27,"y":17.2},{"x":2.33,"y":17.28},{"x":2.39,"y":17.24},{"x":2.45,"y":17.35},{"x":2.29,"y":17.43},{"x":2.35,"y":17.39},{"x":2.41,"y":17.5},{"x":2.47,"y":17.46},{"x":2.26,"y":17.57},{"x":2.32,"y":17.65},{"x":2.38,"y":17.61},{"x":2.44,"y":17.72},{"x":2.5,"y":17.68},{"x":2.28,"y":17.79},{"x":2.34,"y":17.87},{"x":2.4,"y":17.83},{"x":2.46,"y":17.94},{"x":2.31,"y":17.98},{"x":2.37,"y":17.91},{"x":2.53,"y":17.15},{"x":2.57,"y":17.52},{"x":2.62,"y":17.88},{"x":2.67,"y":17.31},{"x":2.72,"y":17.74},{"x":2.78,"y":17.09},{"x":2.84,"y":17.56},{"x":2.9,"y":17.92},{"x":2.97,"y":17.4},{"x":2.23,"y":17.33},{"x":2.21,"y":17.85},{"x":2.35,"y":17.16},{"x":2.43,"y":17.59},{"x":2.49,"y":17.22},{"x":2.55,"y":17.77},{"x":2.6,"y":17.04},{"x":2.39,"y":17.96},{"x":2.3,"y":17.7},{"x":2.44,"y":17.42},{"x":2.65,"y":17.63},{"x":2.18,"y":17.6},{"x":3.05,"y":17.81},
{"x":2.29,"y":18.04},{"x":2.35,"y":18.11},{"x":2.41,"y":18.07},{"x":2.47,"y":18.18},{"x":2.27,"y":18.25},{"x":2.33,"y":18.32},{"x":2.39,"y":18.28},{"x":2.45,"y":18.39},{"x":2.51,"y":18.35},{"x":2.26,"y":18.46},{"x":2.32,"y":18.53},{"x":2.38,"y":18.49},{"x":2.44,"y":18.6},{"x":2.5,"y":18.56},{"x":2.28,"y":18.67},{"x":2.34,"y":18.74},{"x":2.4,"y":18.7},{"x":2.46,"y":18.81},{"x":2.52,"y":18.77},{"x":2.3,"y":18.88},{"x":2.36,"y":18.95},{"x":2.42,"y":18.91},{"x":2.48,"y":18.98},{"x":2.56,"y":18.14},{"x":2.61,"y":18.42},{"x":2.66,"y":18.84},{"x":2.71,"y":18.21},{"x":2.76,"y":18.58},{"x":2.82,"y":18.93},{"x":2.88,"y":18.3},{"x":2.94,"y":18.66},{"x":3.0,"y":18.12},{"x":3.07,"y":18.5},{"x":3.15,"y":18.86},{"x":2.22,"y":18.2},{"x":2.2,"y":18.72},{"x":2.37,"y":18.02},{"x":2.43,"y":18.44},{"x":2.49,"y":18.27},{"x":2.55,"y":18.63},{"x":2.59,"y":18.97},{"x":2.31,"y":18.4},{"x":2.39,"y":18.83},{"x":2.45,"y":18.12},{"x":2.53,"y":18.45},{"x":2.69,"y":18.37},{"x":2.79,"y":18.76},{"x":2.86,"y":18.08},{"x":2.36,"y":18.62},{"x":2.42,"y":18.34},{"x":2.17,"y":18.9},{"x":3.22,"y":18.33},
{"x":2.27,"y":19.04},{"x":2.33,"y":19.11},{"x":2.4,"y":19.07},{"x":2.47,"y":19.18},{"x":2.54,"y":19.14},{"x":2.25,"y":19.25},{"x":2.31,"y":19.32},{"x":2.38,"y":19.28},{"x":2.45,"y":19.39},{"x":2.52,"y":19.35},{"x":2.59,"y":19.46},{"x":2.29,"y":19.53},{"x":2.36,"y":19.49},{"x":2.43,"y":19.6},{"x":2.5,"y":19.56},{"x":2.57,"y":19.67},{"x":2.64,"y":19.63},{"x":2.26,"y":19.74},{"x":2.33,"y":19.7},{"x":2.4,"y":19.81},{"x":2.47,"y":19.77},{"x":2.54,"y":19.88},{"x":2.61,"y":19.84},{"x":2.68,"y":19.95},{"x":2.3,"y":19.92},{"x":2.37,"y":19.99},{"x":2.44,"y":19.96},{"x":2.7,"y":19.21},{"x":2.76,"y":19.42},{"x":2.82,"y":19.73},{"x":2.88,"y":19.16},{"x":2.94,"y":19.58},{"x":3.0,"y":19.9},{"x":3.07,"y":19.34},{"x":3.14,"y":19.65},{"x":3.22,"y":19.09},{"x":3.3,"y":19.51},{"x":3.4,"y":19.86},{"x":2.21,"y":19.44},{"x":2.19,"y":19.97},{"x":2.35,"y":19.23},{"x":2.42,"y":19.02},{"x":2.49,"y":19.45},{"x":2.56,"y":19.29},{"x":2.63,"y":19.06},{"x":2.73,"y":19.55},{"x":2.79,"y":19.98},{"x":2.85,"y":19.38},{"x":2.91,"y":19.03},{"x":2.97,"y":19.75},{"x":2.32,"y":19.62},{"x":2.39,"y":19.41},{"x":2.46,"y":19.93},{"x":2.53,"y":19.71},{"x":2.6,"y":19.19},{"x":2.66,"y":19.8},{"x":2.28,"y":19.85},{"x":3.1,"y":19.97},
{"x":2.24,"y":20.04},{"x":2.31,"y":20.12},{"x":2.38,"y":20.07},{"x":2.45,"y":20.18},{"x":2.52,"y":20.1},{"x":2.59,"y":20.23},{"x":2.66,"y":20.15},{"x":2.73,"y":20.27},{"x":2.8,"y":20.2},{"x":2.27,"y":20.33},{"x":2.34,"y":20.41},{"x":2.41,"y":20.36},{"x":2.48,"y":20.47},{"x":2.55,"y":20.43},{"x":2.62,"y":20.54},{"x":2.69,"y":20.5},{"x":2.76,"y":20.61},{"x":2.83,"y":20.57},{"x":2.9,"y":20.68},{"x":2.25,"y":20.64},{"x":2.32,"y":20.72},{"x":2.39,"y":20.68},{"x":2.46,"y":20.79},{"x":2.53,"y":20.75},{"x":2.6,"y":20.86},{"x":2.67,"y":20.82},{"x":2.74,"y":20.93},{"x":2.81,"y":20.89},{"x":2.88,"y":20.97},{"x":2.95,"y":20.3},{"x":3.02,"y":20.52},{"x":3.09,"y":20.77},{"x":3.16,"y":20.38},{"x":3.24,"y":20.66},{"x":3.33,"y":20.91},{"x":3.45,"y":20.45},{"x":2.2,"y":20.26},{"x":2.18,"y":20.88},{"x":2.29,"y":20.95},{"x":2.36,"y":20.58},{"x":2.43,"y":20.22},{"x":2.5,"y":20.99},{"x":2.57,"y":20.62},{"x":2.64,"y":20.35},{"x":2.71,"y":20.06},{"x":2.78,"y":20.84},{"x":2.85,"y":20.13},{"x":2.92,"y":20.46},{"x":2.99,"y":20.95},{"x":3.06,"y":20.09},{"x":2.3,"y":20.49},{"x":2.37,"y":20.85},{"x":2.44,"y":20.6},{"x":2.51,"y":20.31},{"x":2.58,"y":20.02},{"x":2.65,"y":20.73},{"x":2.72,"y":20.4},{"x":2.79,"y":20.98},{"x":2.86,"y":20.36},{"x":2.93,"y":20.81},{"x":3.12,"y":20.2},{"x":2.47,"y":20.9},
{"x":2.21,"y":21.05},{"x":2.28,"y":21.13},{"x":2.35,"y":21.08},{"x":2.42,"y":21.19},{"x":2.49,"y":21.11},{"x":2.56,"y":21.24},{"x":2.63,"y":21.16},{"x":2.7,"y":21.29},{"x":2.77,"y":21.21},{"x":2.84,"y":21.34},{"x":2.91,"y":21.26},{"x":2.98,"y":21.39},{"x":3.05,"y":21.31},{"x":2.24,"y":21.44},{"x":2.31,"y":21.52},{"x":2.38,"y":21.47},{"x":2.45,"y":21.58},{"x":2.52,"y":21.5},{"x":2.59,"y":21.63},{"x":2.66,"y":21.55},{"x":2.73,"y":21.68},{"x":2.8,"y":21.6},{"x":2.87,"y":21.73},{"x":2.94,"y":21.65},{"x":3.01,"y":21.78},{"x":3.08,"y":21.7},{"x":3.15,"y":21.46},{"x":2.22,"y":21.83},{"x":2.29,"y":21.9},{"x":2.36,"y":21.86},{"x":2.43,"y":21.97},{"x":2.5,"y":21.92},{"x":2.57,"y":21.81},{"x":2.64,"y":21.95},{"x":2.71,"y":21.88},{"x":2.78,"y":21.99},{"x":2.85,"y":21.85},{"x":2.92,"y":21.94},{"x":2.99,"y":21.89},{"x":3.06,"y":21.96},{"x":3.13,"y":21.84},{"x":3.2,"y":21.6},{"x":3.27,"y":21.91},{"x":3.34,"y":21.4},{"x":3.42,"y":21.75},{"x":3.5,"y":21.93},{"x":2.15,"y":21.36},{"x":2.12,"y":21.8},{"x":2.06,"y":21.97},{"x":3.18,"y":21.14},{"x":3.11,"y":21.22},{"x":2.33,"y":21.67},{"x":2.4,"y":21.32},{"x":2.47,"y":21.77},{"x":2.54,"y":21.41},{"x":2.61,"y":21.03},{"x":2.68,"y":21.71},{"x":2.75,"y":21.45},{"x":2.82,"y":21.9},{"x":2.89,"y":21.53},{"x":2.96,"y":21.11},{"x":3.03,"y":21.57},{"x":2.26,"y":21.27},{"x":3.24,"y":21.3},
{"x":2.33,"y":17.02},{"x":2.39,"y":17.09},{"x":2.29,"y":17.14},{"x":2.44,"y":17.19},{"x":2.35,"y":17.25},{"x":2.41,"y":17.3},{"x":2.3,"y":17.36},{"x":2.47,"y":17.4},{"x":2.37,"y":17.45},{"x":2.32,"y":17.52},{"x":2.43,"y":17.55},{"x":2.38,"y":17.63},{"x":2.28,"y":17.67},{"x":2.45,"y":17.69},{"x":2.35,"y":17.75},{"x":2.41,"y":17.8},{"x":2.31,"y":17.84},{"x":2.49,"y":17.86},{"x":2.37,"y":17.93},{"x":2.43,"y":17.97},{"x":2.26,"y":17.5},{"x":2.52,"y":17.6},{"x":2.34,"y":17.99},{"x":2.4,"y":17.18},{"x":2.46,"y":17.79},
{"x":2.31,"y":18.01},{"x":2.37,"y":18.05},{"x":2.44,"y":18.1},{"x":2.3,"y":18.16},{"x":2.4,"y":18.2},{"x":2.48,"y":18.23},{"x":2.35,"y":18.27},{"x":2.42,"y":18.31},{"x":2.28,"y":18.36},{"x":2.5,"y":18.38},{"x":2.38,"y":18.42},{"x":2.45,"y":18.47},{"x":2.33,"y":18.5},{"x":2.41,"y":18.55},{"x":2.53,"y":18.58},{"x":2.36,"y":18.63},{"x":2.47,"y":18.66},{"x":2.3,"y":18.7},{"x":2.43,"y":18.74},{"x":2.55,"y":18.79},{"x":2.34,"y":18.82},{"x":2.4,"y":18.87},{"x":2.49,"y":18.9},{"x":2.27,"y":18.93},{"x":2.45,"y":18.96},{"x":2.58,"y":18.3},{"x":2.37,"y":18.99},{"x":2.62,"y":18.7},
{"x":2.3,"y":19.01},{"x":2.37,"y":19.05},{"x":2.44,"y":19.1},{"x":2.52,"y":19.13},{"x":2.33,"y":19.19},{"x":2.41,"y":19.22},{"x":2.49,"y":19.27},{"x":2.58,"y":19.3},{"x":2.28,"y":19.36},{"x":2.36,"y":19.4},{"x":2.45,"y":19.43},{"x":2.54,"y":19.48},{"x":2.32,"y":19.52},{"x":2.4,"y":19.57},{"x":2.48,"y":19.6},{"x":2.62,"y":19.64},{"x":2.3,"y":19.69},{"x":2.39,"y":19.73},{"x":2.47,"y":19.76},{"x":2.56,"y":19.81},{"x":2.35,"y":19.85},{"x":2.43,"y":19.89},{"x":2.51,"y":19.93},{"x":2.66,"y":19.96},{"x":2.27,"y":19.98},
{"x":2.28,"y":20.08},{"x":2.42,"y":20.13},{"x":2.57,"y":20.19},{"x":2.35,"y":20.25},{"x":2.49,"y":20.3},{"x":2.66,"y":20.34},{"x":2.31,"y":20.42},{"x":2.46,"y":20.47},{"x":2.76,"y":20.52},{"x":2.39,"y":20.58},{"x":2.56,"y":20.63},{"x":2.88,"y":20.7},{"x":2.27,"y":20.74},{"x":2.63,"y":20.78},{"x":2.44,"y":20.84},{"x":2.81,"y":20.88},{"x":2.34,"y":20.94},{"x":2.96,"y":20.42},{"x":2.52,"y":21.02},{"x":2.69,"y":21.07},{"x":2.4,"y":21.14},{"x":2.86,"y":21.17},{"x":2.58,"y":21.24},{"x":3.0,"y":21.28},{"x":2.47,"y":21.35},{"x":2.76,"y":21.38},{"x":2.32,"y":21.48},{"x":2.93,"y":21.44},{"x":2.65,"y":21.58},{"x":2.5,"y":21.66},{"x":2.83,"y":21.69},{"x":3.04,"y":21.74},{"x":2.37,"y":21.8},{"x":2.72,"y":21.85},{"x":2.6,"y":21.92},
{"x":2.31,"y":16.53},{"x":2.37,"y":16.6},{"x":2.28,"y":16.7},{"x":2.4,"y":16.77},{"x":2.33,"y":16.84},{"x":2.44,"y":16.91},{"x":2.3,"y":16.97},{"x":2.36,"y":17.05},{"x":2.42,"y":17.11},{"x":2.27,"y":17.17},{"x":2.39,"y":17.24},{"x":2.46,"y":17.29},{"x":2.33,"y":17.34},{"x":2.4,"y":17.41},{"x":2.49,"y":17.47},
{"x":2.3,"y":17.53},{"x":2.37,"y":17.58},{"x":2.43,"y":17.62},{"x":2.28,"y":17.66},{"x":2.35,"y":17.71},{"x":2.42,"y":17.76},{"x":2.48,"y":17.81},{"x":2.32,"y":17.85},{"x":2.39,"y":17.89},{"x":2.45,"y":17.94},{"x":2.29,"y":17.97},{"x":2.36,"y":18.02},{"x":2.43,"y":18.06},{"x":2.5,"y":18.09},{"x":2.33,"y":18.13},{"x":2.4,"y":18.18},{"x":2.47,"y":18.22},{"x":2.27,"y":18.26},{"x":2.35,"y":18.3},{"x":2.42,"y":18.33},{"x":2.49,"y":18.37},{"x":2.31,"y":18.41},{"x":2.38,"y":18.45},{"x":2.46,"y":18.49},{"x":2.53,"y":18.52},{"x":2.34,"y":18.57},{"x":2.41,"y":18.61},{"x":2.48,"y":18.64},{"x":2.29,"y":18.68},{"x":2.37,"y":18.72},{"x":2.44,"y":18.76},{"x":2.52,"y":18.8},{"x":2.33,"y":18.84},{"x":2.4,"y":18.88},{"x":2.47,"y":18.92},
{"x":2.31,"y":19.03},{"x":2.38,"y":19.08},{"x":2.46,"y":19.12},{"x":2.55,"y":19.16},{"x":2.29,"y":19.21},{"x":2.36,"y":19.26},{"x":2.44,"y":19.3},{"x":2.52,"y":19.34},{"x":2.34,"y":19.41},{"x":2.42,"y":19.46},
{"x":2.27,"y":19.51},{"x":2.35,"y":19.54},{"x":2.43,"y":19.58},{"x":2.51,"y":19.62},{"x":2.6,"y":19.66},{"x":2.7,"y":19.7},{"x":2.3,"y":19.74},{"x":2.38,"y":19.78},{"x":2.47,"y":19.82},{"x":2.55,"y":19.86},{"x":2.65,"y":19.9},{"x":2.26,"y":19.94},{"x":2.34,"y":19.97},{"x":2.42,"y":20.01},{"x":2.5,"y":20.05},{"x":2.59,"y":20.09},{"x":2.69,"y":20.12},{"x":2.8,"y":20.16},{"x":2.29,"y":20.2},{"x":2.37,"y":20.24},{"x":2.45,"y":20.28},{"x":2.54,"y":20.32},{"x":2.63,"y":20.35},{"x":2.73,"y":20.39},{"x":2.86,"y":20.43},{"x":2.25,"y":20.47},{"x":2.33,"y":20.51},{"x":2.41,"y":20.54},{"x":2.5,"y":20.58},{"x":2.58,"y":20.62},{"x":2.67,"y":20.66},{"x":2.77,"y":20.69},{"x":2.92,"y":20.73},{"x":2.28,"y":20.77},{"x":2.36,"y":20.81},{"x":2.45,"y":20.85},{"x":2.53,"y":20.88},{"x":2.62,"y":20.92},{"x":2.71,"y":20.96},{"x":2.83,"y":20.99},{"x":2.98,"y":21.03},{"x":2.23,"y":21.07},{"x":2.31,"y":21.11},{"x":2.4,"y":21.15},{"x":2.48,"y":21.18},{"x":2.57,"y":21.22},{"x":2.66,"y":21.26},{"x":2.76,"y":21.3},{"x":2.89,"y":21.33},{"x":3.05,"y":21.37},{"x":2.27,"y":21.41},{"x":2.35,"y":21.45},{"x":2.44,"y":21.49},{"x":2.52,"y":21.52},{"x":2.61,"y":21.56},{"x":2.7,"y":21.6},{"x":2.81,"y":21.64},{"x":2.95,"y":21.67},{"x":3.1,"y":21.71},{"x":2.24,"y":21.75},{"x":2.32,"y":21.79},{"x":2.41,"y":21.83},{"x":2.49,"y":21.86},{"x":2.58,"y":21.9},{"x":2.67,"y":21.94},{"x":2.78,"y":21.97},{"x":2.91,"y":21.81},{"x":3.02,"y":21.92},{"x":2.86,"y":20.05},{"x":2.95,"y":20.3},{"x":3.03,"y":20.6},{"x":3.12,"y":20.85},{"x":2.74,"y":19.95},{"x":2.82,"y":19.62},{"x":3.18,"y":21.55},{"x":2.2,"y":20.6},{"x":2.19,"y":21.5},{"x":2.62,"y":19.77},{"x":2.48,"y":19.7},{"x":2.39,"y":20.16}
]
},
"hconcat":[
{
"width":244,"height":245,
"layer":[
{"data":{"name":"c1"},"mark":{"type":"square","size":8,"color":"#a6a6a6","opacity":1,"clip":true},
 "encoding":{"x":{"field":"x","type":"quantitative","scale":{"domain":[2,3.6],"nice":false,"zero":false},"axis":{"orient":"bottom","values":[2,2.5,3,3.5],"format":"~g","ticks":false,"labels":true,"labelPadding":3,"labelFontSize":14,"title":null}},
  "y":{"field":"y","type":"quantitative","scale":{"domain":[14,22],"reverse":true,"nice":false,"zero":false},"axis":{"orient":"left","values":[16,18,20,22],"format":"~g","ticks":false,"labels":true,"labelPadding":7,"labelFontSize":18,"title":"V","titleFontSize":14,"titleFontWeight":"normal","titlePadding":15}}}},
{"data":{"name":"chips"},"transform":[{"filter":"datum.p==1"}],"mark":{"type":"point","opacity":0},
 "encoding":{"x":{"field":"x","type":"quantitative","axis":{"orient":"bottom","values":[2,2.5,3,3.5],"labels":false,"tickSize":-12,"title":null}},
  "y":{"field":"y","type":"quantitative","axis":{"orient":"left","values":[16,18,20],"labels":false,"tickSize":-14,"title":null}}}},
{"data":{"name":"chips"},"transform":[{"filter":"datum.p==1"}],"mark":{"type":"point","opacity":0},
 "encoding":{"x":{"field":"x","type":"quantitative","axis":{"orient":"bottom","values":[2.1,2.2,2.3,2.4,2.6,2.7,2.8,2.9,3.1,3.2,3.3,3.4],"labels":false,"tickSize":-6,"title":null}},
  "y":{"field":"y","type":"quantitative","axis":{"orient":"left","values":[14.5,15,15.5,16.5,17,17.5,18.5,19,19.5,20.5,21,21.5],"labels":false,"tickSize":-7,"title":null}}}},
{"data":{"name":"chips"},"transform":[{"filter":"datum.p==1"}],"mark":{"type":"point","opacity":0},
 "encoding":{"x":{"field":"x","type":"quantitative","axis":{"orient":"top","values":[2,2.5,3,3.5],"labels":false,"tickSize":-12,"title":null}},
  "y":{"field":"y","type":"quantitative","axis":{"orient":"right","values":[16,18,20],"labels":false,"tickSize":-14,"title":null}}}},
{"data":{"name":"chips"},"transform":[{"filter":"datum.p==1"}],"mark":{"type":"point","opacity":0},
 "encoding":{"x":{"field":"x","type":"quantitative","axis":{"orient":"top","values":[2.1,2.2,2.3,2.4,2.6,2.7,2.8,2.9,3.1,3.2,3.3,3.4],"labels":false,"tickSize":-6,"title":null}},
  "y":{"field":"y","type":"quantitative","axis":{"orient":"right","values":[14.5,15,15.5,16.5,17,17.5,18.5,19,19.5,20.5,21,21.5],"labels":false,"tickSize":-7,"title":null}}}},
{"data":{"name":"sym"},"transform":[{"filter":"datum.p==1"}],"mark":{"type":"point","filled":true,"color":"#000","opacity":1},
 "encoding":{"x":{"field":"x","type":"quantitative","axis":null},"y":{"field":"y","type":"quantitative","axis":null},
  "shape":{"field":"t","type":"nominal","scale":{"domain":["c","t","s"],"range":["circle","triangle-up","square"]},"legend":null},
  "size":{"field":"t","type":"ordinal","scale":{"domain":["c","t","s"],"range":[50,32,30]},"legend":null}}},
{"data":{"name":"sym"},"transform":[{"filter":"datum.p==1"}],"mark":{"type":"text","font":"Liberation Sans","fontSize":11,"color":"#111"},
 "encoding":{"x":{"field":"lx","type":"quantitative","axis":null},"y":{"field":"ly","type":"quantitative","axis":null},"text":{"field":"n"}}},
{"data":{"name":"chips"},"transform":[{"filter":"datum.p==1"}],"mark":{"type":"text","align":"right","baseline":"alphabetic","font":"DejaVu Serif","fontSize":18,"color":"#222"},
 "encoding":{"x":{"field":"x","type":"quantitative","axis":null},"y":{"field":"y","type":"quantitative","axis":null},"text":{"field":"label"}}}
],
"resolve":{"axis":{"x":"independent","y":"independent"}}
},
{
"width":244,"height":245,
"layer":[
{"data":{"name":"c2"},"mark":{"type":"square","size":8,"color":"#a6a6a6","opacity":1,"clip":true},
 "encoding":{"x":{"field":"x","type":"quantitative","scale":{"domain":[1.7,3.3],"nice":false,"zero":false},"axis":{"orient":"bottom","values":[2,2.5,3],"format":"~g","ticks":false,"labels":true,"labelPadding":3,"labelFontSize":14,"title":"V−r","titleFontSize":13,"titleFontWeight":"bold","titlePadding":14,"titleX":130}},
  "y":{"field":"y","type":"quantitative","scale":{"domain":[14,22],"reverse":true,"nice":false,"zero":false},"axis":null}}},
{"data":{"name":"chips"},"transform":[{"filter":"datum.p==2"}],"mark":{"type":"point","opacity":0},
 "encoding":{"x":{"field":"x","type":"quantitative","axis":{"orient":"bottom","values":[2,2.5,3],"labels":false,"tickSize":-12,"title":null}},
  "y":{"field":"y","type":"quantitative","axis":{"orient":"left","values":[16,18,20],"labels":false,"tickSize":-14,"title":null}}}},
{"data":{"name":"chips"},"transform":[{"filter":"datum.p==2"}],"mark":{"type":"point","opacity":0},
 "encoding":{"x":{"field":"x","type":"quantitative","axis":{"orient":"bottom","values":[1.8,1.9,2.1,2.2,2.3,2.4,2.6,2.7,2.8,2.9,3.1,3.2],"labels":false,"tickSize":-6,"title":null}},
  "y":{"field":"y","type":"quantitative","axis":{"orient":"left","values":[14.5,15,15.5,16.5,17,17.5,18.5,19,19.5,20.5,21,21.5],"labels":false,"tickSize":-7,"title":null}}}},
{"data":{"name":"chips"},"transform":[{"filter":"datum.p==2"}],"mark":{"type":"point","opacity":0},
 "encoding":{"x":{"field":"x","type":"quantitative","axis":{"orient":"top","values":[2,2.5,3],"labels":false,"tickSize":-12,"title":null}},
  "y":{"field":"y","type":"quantitative","axis":{"orient":"right","values":[16,18,20],"labels":false,"tickSize":-14,"title":null}}}},
{"data":{"name":"chips"},"transform":[{"filter":"datum.p==2"}],"mark":{"type":"point","opacity":0},
 "encoding":{"x":{"field":"x","type":"quantitative","axis":{"orient":"top","values":[1.8,1.9,2.1,2.2,2.3,2.4,2.6,2.7,2.8,2.9,3.1,3.2],"labels":false,"tickSize":-6,"title":null}},
  "y":{"field":"y","type":"quantitative","axis":{"orient":"right","values":[14.5,15,15.5,16.5,17,17.5,18.5,19,19.5,20.5,21,21.5],"labels":false,"tickSize":-7,"title":null}}}},
{"data":{"name":"sym"},"transform":[{"filter":"datum.p==2"}],"mark":{"type":"point","filled":true,"color":"#000","opacity":1},
 "encoding":{"x":{"field":"x","type":"quantitative","axis":null},"y":{"field":"y","type":"quantitative","axis":null},
  "shape":{"field":"t","type":"nominal","scale":{"domain":["c","t","s"],"range":["circle","triangle-up","square"]},"legend":null},
  "size":{"field":"t","type":"ordinal","scale":{"domain":["c","t","s"],"range":[50,32,30]},"legend":null}}},
{"data":{"name":"sym"},"transform":[{"filter":"datum.p==2"}],"mark":{"type":"text","font":"Liberation Sans","fontSize":11,"color":"#111"},
 "encoding":{"x":{"field":"lx","type":"quantitative","axis":null},"y":{"field":"ly","type":"quantitative","axis":null},"text":{"field":"n"}}},
{"data":{"name":"chips"},"transform":[{"filter":"datum.p==2"}],"mark":{"type":"text","align":"right","baseline":"alphabetic","font":"DejaVu Serif","fontSize":18,"color":"#222"},
 "encoding":{"x":{"field":"x","type":"quantitative","axis":null},"y":{"field":"y","type":"quantitative","axis":null},"text":{"field":"label"}}}
],
"resolve":{"axis":{"x":"independent","y":"independent"}}
},
{
"width":244,"height":245,
"layer":[
{"data":{"name":"c4"},"mark":{"type":"square","size":8,"color":"#a6a6a6","opacity":1,"clip":true},
 "encoding":{"x":{"field":"x","type":"quantitative","scale":{"domain":[1.95,3.55],"nice":false,"zero":false},"axis":{"orient":"bottom","values":[2,2.5,3,3.5],"format":"~g","ticks":false,"labels":true,"labelPadding":3,"labelFontSize":14,"title":null}},
  "y":{"field":"y","type":"quantitative","scale":{"domain":[14,22],"reverse":true,"nice":false,"zero":false},"axis":{"orient":"right","values":[16,18,20,22],"format":"~g","ticks":false,"labels":true,"labelPadding":9,"labelFontSize":18,"title":null}}}},
{"data":{"name":"chips"},"transform":[{"filter":"datum.p==4"}],"mark":{"type":"point","opacity":0},
 "encoding":{"x":{"field":"x","type":"quantitative","axis":{"orient":"bottom","values":[2,2.5,3,3.5],"labels":false,"tickSize":-12,"title":null}},
  "y":{"field":"y","type":"quantitative","axis":{"orient":"left","values":[16,18,20],"labels":false,"tickSize":-14,"title":null}}}},
{"data":{"name":"chips"},"transform":[{"filter":"datum.p==4"}],"mark":{"type":"point","opacity":0},
 "encoding":{"x":{"field":"x","type":"quantitative","axis":{"orient":"bottom","values":[2.1,2.2,2.3,2.4,2.6,2.7,2.8,2.9,3.1,3.2,3.3,3.4],"labels":false,"tickSize":-6,"title":null}},
  "y":{"field":"y","type":"quantitative","axis":{"orient":"left","values":[14.5,15,15.5,16.5,17,17.5,18.5,19,19.5,20.5,21,21.5],"labels":false,"tickSize":-7,"title":null}}}},
{"data":{"name":"chips"},"transform":[{"filter":"datum.p==4"}],"mark":{"type":"point","opacity":0},
 "encoding":{"x":{"field":"x","type":"quantitative","axis":{"orient":"top","values":[2,2.5,3,3.5],"labels":false,"tickSize":-12,"title":null}},
  "y":{"field":"y","type":"quantitative","axis":{"orient":"right","values":[16,18,20],"labels":false,"tickSize":-14,"title":null}}}},
{"data":{"name":"chips"},"transform":[{"filter":"datum.p==4"}],"mark":{"type":"point","opacity":0},
 "encoding":{"x":{"field":"x","type":"quantitative","axis":{"orient":"top","values":[2.1,2.2,2.3,2.4,2.6,2.7,2.8,2.9,3.1,3.2,3.3,3.4],"labels":false,"tickSize":-6,"title":null}},
  "y":{"field":"y","type":"quantitative","axis":{"orient":"right","values":[14.5,15,15.5,16.5,17,17.5,18.5,19,19.5,20.5,21,21.5],"labels":false,"tickSize":-7,"title":null}}}},
{"data":{"name":"sym"},"transform":[{"filter":"datum.p==4"}],"mark":{"type":"point","filled":true,"color":"#000","opacity":1},
 "encoding":{"x":{"field":"x","type":"quantitative","axis":null},"y":{"field":"y","type":"quantitative","axis":null},
  "shape":{"field":"t","type":"nominal","scale":{"domain":["c","t","s"],"range":["circle","triangle-up","square"]},"legend":null},
  "size":{"field":"t","type":"ordinal","scale":{"domain":["c","t","s"],"range":[50,32,30]},"legend":null}}},
{"data":{"name":"sym"},"transform":[{"filter":"datum.p==4"}],"mark":{"type":"text","font":"Liberation Sans","fontSize":11,"color":"#111"},
 "encoding":{"x":{"field":"lx","type":"quantitative","axis":null},"y":{"field":"ly","type":"quantitative","axis":null},"text":{"field":"n"}}},
{"data":{"name":"chips"},"transform":[{"filter":"datum.p==4"}],"mark":{"type":"text","align":"right","baseline":"alphabetic","font":"DejaVu Serif","fontSize":18,"color":"#222"},
 "encoding":{"x":{"field":"x","type":"quantitative","axis":null},"y":{"field":"y","type":"quantitative","axis":null},"text":{"field":"label"}}}
],
"resolve":{"axis":{"x":"independent","y":"independent"}}
}
]
}
